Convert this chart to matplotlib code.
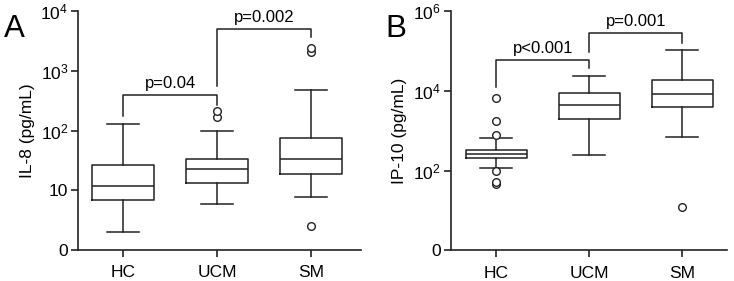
import matplotlib
matplotlib.use("Agg")
import matplotlib.pyplot as plt

plt.rcParams['font.family'] = ['Liberation Sans', 'DejaVu Sans']
plt.rcParams['mathtext.fontset'] = 'custom'
plt.rcParams['mathtext.rm'] = 'Liberation Sans'
plt.rcParams['mathtext.it'] = 'Liberation Sans:italic'

groups = ['HC', 'UCM', 'SM']

# Panel A: IL-8 (pg/mL) box statistics
il8_whislo = [2.0, 5.9, 7.6]
il8_q1 = [6.8, 13, 19]
il8_med = [12, 23, 33]
il8_q3 = [26, 33, 74]
il8_whishi = [130, 100, 470]
il8_fliers = [[], [170, 210], [2.5, 2100, 2400]]

# Panel B: IP-10 (pg/mL)
ip10_whislo = [115, 247, 710]
ip10_q1 = [212, 1950, 3900]
ip10_med = [265, 4400, 8100]
ip10_q3 = [335, 8700, 18800]
ip10_whishi = [650, 23000, 106000]
ip10_fliers = [[46, 53, 100, 800, 1780, 6500], [], [12.4]]

# brackets: (group i, group j, top, left end, right end, label)
il8_brackets = [(0, 1, 390, 178, 270, 'p=0.04'),
                (1, 2, 5000, 560, 3700, 'p=0.002')]
ip10_brackets = [(0, 1, 59600, 12600, 36300, 'p<0.001'),
                 (1, 2, 276000, 94400, 162000, 'p=0.001')]

il8_ticks = [1, 10, 100, 1000, 10000]
il8_ticklabels = ['0', '10', r'$\mathregular{10^2}$', r'$\mathregular{10^3}$', r'$\mathregular{10^4}$']
ip10_ticks = [1, 100, 10000, 1000000]
ip10_ticklabels = ['0', r'$\mathregular{10^2}$', r'$\mathregular{10^4}$', r'$\mathregular{10^6}$']


def draw_panel(ax, whislo, q1, med, q3, whishi, fliers, brackets,
               ticks, ticklabels, ylabel, xlim):
    stats = []
    for i in range(len(groups)):
        stats.append(dict(whislo=whislo[i], q1=q1[i], med=med[i], q3=q3[i],
                          whishi=whishi[i], fliers=fliers[i], label=groups[i]))
    lw = 1.1
    ax.bxp(stats, positions=range(len(groups)), widths=0.66,
           showfliers=True, patch_artist=False,
           boxprops=dict(color='#222222', linewidth=lw),
           medianprops=dict(color='#222222', linewidth=lw),
           whiskerprops=dict(color='#222222', linewidth=lw),
           capprops=dict(color='#222222', linewidth=lw),
           capwidths=0.34,
           flierprops=dict(marker='o', markersize=5.5, markerfacecolor='white',
                           markeredgecolor='#222222', markeredgewidth=1.0))
    ax.set_yscale('log')
    ax.set_ylim(ticks[0], ticks[-1])
    ax.set_xlim(*xlim)
    ax.set_yticks(ticks)
    ax.set_yticklabels(ticklabels)
    ax.minorticks_off()
    ax.set_xticks(range(len(groups)))
    ax.set_xticklabels(groups)
    ax.set_ylabel(ylabel, fontsize=12.5, labelpad=4)
    for s in ['top', 'right']:
        ax.spines[s].set_visible(False)
    for s in ['left', 'bottom']:
        ax.spines[s].set_linewidth(1.2)
        ax.spines[s].set_color('#222222')
    ax.tick_params(axis='both', labelsize=12.5, width=1.2, length=5,
                   color='#222222', direction='out')
    ax.tick_params(axis='x', pad=6)
    ax.tick_params(axis='y', pad=2)

    for i, j, top, lo_l, lo_r, label in brackets:
        ax.plot([i, i, j, j], [lo_l, top, top, lo_r], color='#222222',
                linewidth=1.1, clip_on=False)
        ax.annotate(label, xy=((i + j) / 2, top), xytext=(0, 3),
                    textcoords='offset points', ha='center', va='bottom',
                    fontsize=12, annotation_clip=False)


fig = plt.figure(figsize=(7.34, 2.81), dpi=100)
ax_a = fig.add_axes([0.1063, 0.1103, 0.3856, 0.8505])
ax_b = fig.add_axes([0.614, 0.1092, 0.3764, 0.8516])

draw_panel(ax_a, il8_whislo, il8_q1, il8_med, il8_q3, il8_whishi, il8_fliers,
           il8_brackets, il8_ticks, il8_ticklabels, 'IL-8 (pg/mL)', (-0.48, 2.53))
draw_panel(ax_b, ip10_whislo, ip10_q1, ip10_med, ip10_q3, ip10_whishi, ip10_fliers,
           ip10_brackets, ip10_ticks, ip10_ticklabels, 'IP-10 (pg/mL)', (-0.49, 2.48))

fig.text(4 / 734, 1 - 37 / 281, 'A', fontsize=22.5, ha='left', va='baseline')
fig.text(385 / 734, 1 - 37 / 281, 'B', fontsize=22.5, ha='left', va='baseline')

fig.savefig('out.png', dpi=100)
